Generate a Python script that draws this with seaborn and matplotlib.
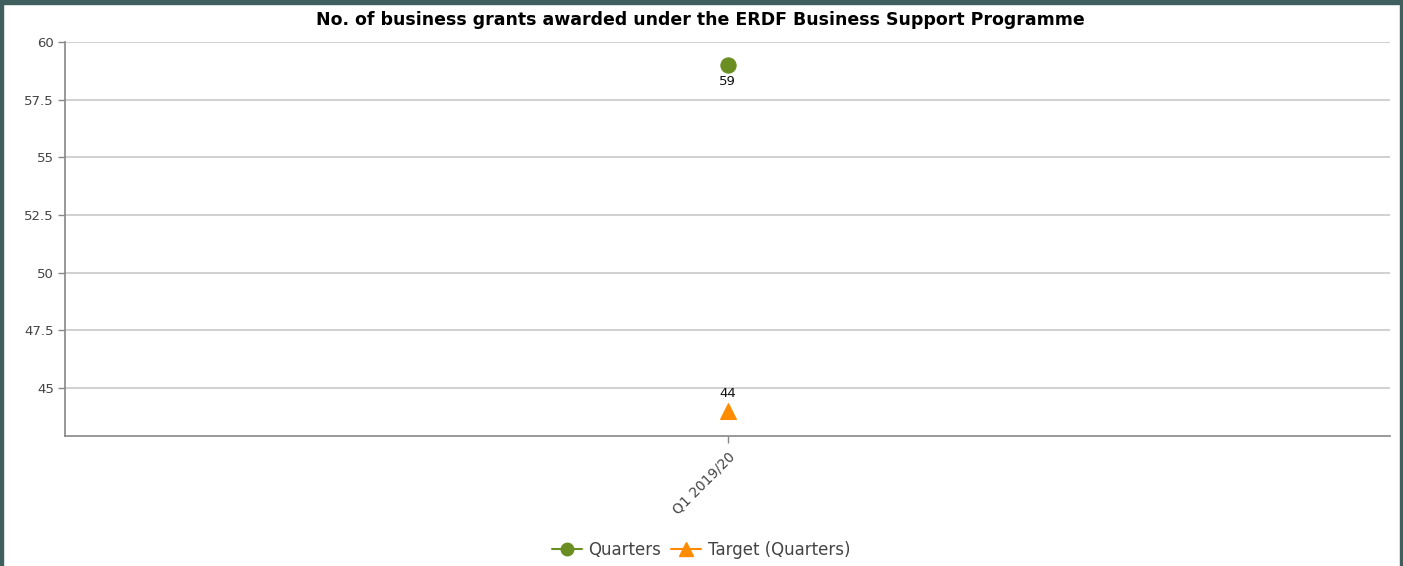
import matplotlib
matplotlib.use("Agg")
import matplotlib.pyplot as plt
import seaborn as sns
import pandas as pd
from matplotlib.lines import Line2D
from matplotlib.patches import Rectangle

categories = ["Q1 2019/20"]
quarters = [59]
target = [44]
yticks = [45, 47.5, 50, 52.5, 55, 57.5, 60]
ytick_labels = ["45", "47.5", "50", "52.5", "55", "57.5", "60"]
title = "No. of business grants awarded under the ERDF Business Support Programme"

green = "#6b8e23"
orange = "#ff8c00"

sns.set_theme(style="white")
plt.rcParams['font.family'] = ['DejaVu Sans']

fig = plt.figure(figsize=(14.03, 5.66), dpi=100)
ax = fig.add_axes([65/1403, 1 - 436/566, (1390-65)/1403, (436-42)/566])

df_q = pd.DataFrame({"x": [0], "y": quarters})
df_t = pd.DataFrame({"x": [0], "y": target})
sns.lineplot(data=df_q, x="x", y="y", marker="o", markersize=11, color=green,
             markeredgecolor=green, ax=ax, zorder=3)
sns.lineplot(data=df_t, x="x", y="y", marker="^", markersize=12, color=orange,
             markeredgecolor=orange, ax=ax, zorder=3)

for i, v in enumerate(quarters):
    ax.annotate(str(v), (i, v), xytext=(0, -12), textcoords="offset points",
                ha="center", va="center", fontsize=9.5, color="#111111")
for i, v in enumerate(target):
    ax.annotate(str(v), (i, v), xytext=(0, 13), textcoords="offset points",
                ha="center", va="center", fontsize=9.5, color="#111111")

ax.set_xlim(-0.5, 0.5)
ax.set_ylim(42.92, 60)
ax.set_xticks(range(len(categories)))
ax.set_xticklabels(categories, rotation=45, ha="right", rotation_mode="anchor",
                   fontsize=10, color="#444444")
ax.set_yticks(yticks)
ax.set_yticklabels(ytick_labels, fontsize=9.5, color="#444444")
ax.set_xlabel("")
ax.set_ylabel("")
ax.grid(axis="y", color="#c8c8c8", linewidth=1.2)
ax.grid(axis="x", visible=False)
ax.tick_params(axis="both", which="both", bottom=True, left=True, length=5,
               width=1, color="#888888", pad=3, direction="out")
ax.tick_params(axis="x", pad=5)
for s in ["top", "right"]:
    ax.spines[s].set_visible(False)
for s in ["left", "bottom"]:
    ax.spines[s].set_color("#888888")
    ax.spines[s].set_linewidth(1.2)

fig.text(700/1403, 1 - 20/566, title, ha="center", va="center",
         fontsize=12.5, fontweight="bold", color="#000000")

handles = [Line2D([0], [0], color=green, marker="o", markersize=9, linewidth=1.5),
           Line2D([0], [0], color=orange, marker="^", markersize=10, linewidth=1.5)]
fig.legend(handles, ["Quarters", "Target (Quarters)"], loc="center",
           bbox_to_anchor=(701/1403, 1 - 550/566), ncol=2, frameon=False,
           fontsize=12, handlelength=1.8, handletextpad=0.4, columnspacing=0.6,
           labelcolor="#444444")

border = "#3f5f5f"
fig.patches.append(Rectangle((0, 0), 3/1403, 1, transform=fig.transFigure, color=border))
fig.patches.append(Rectangle((1400/1403, 0), 3/1403, 1, transform=fig.transFigure, color=border))
fig.patches.append(Rectangle((0, 1 - 4/566), 1, 4/566, transform=fig.transFigure, color=border))

fig.savefig("out.png", dpi=100)
